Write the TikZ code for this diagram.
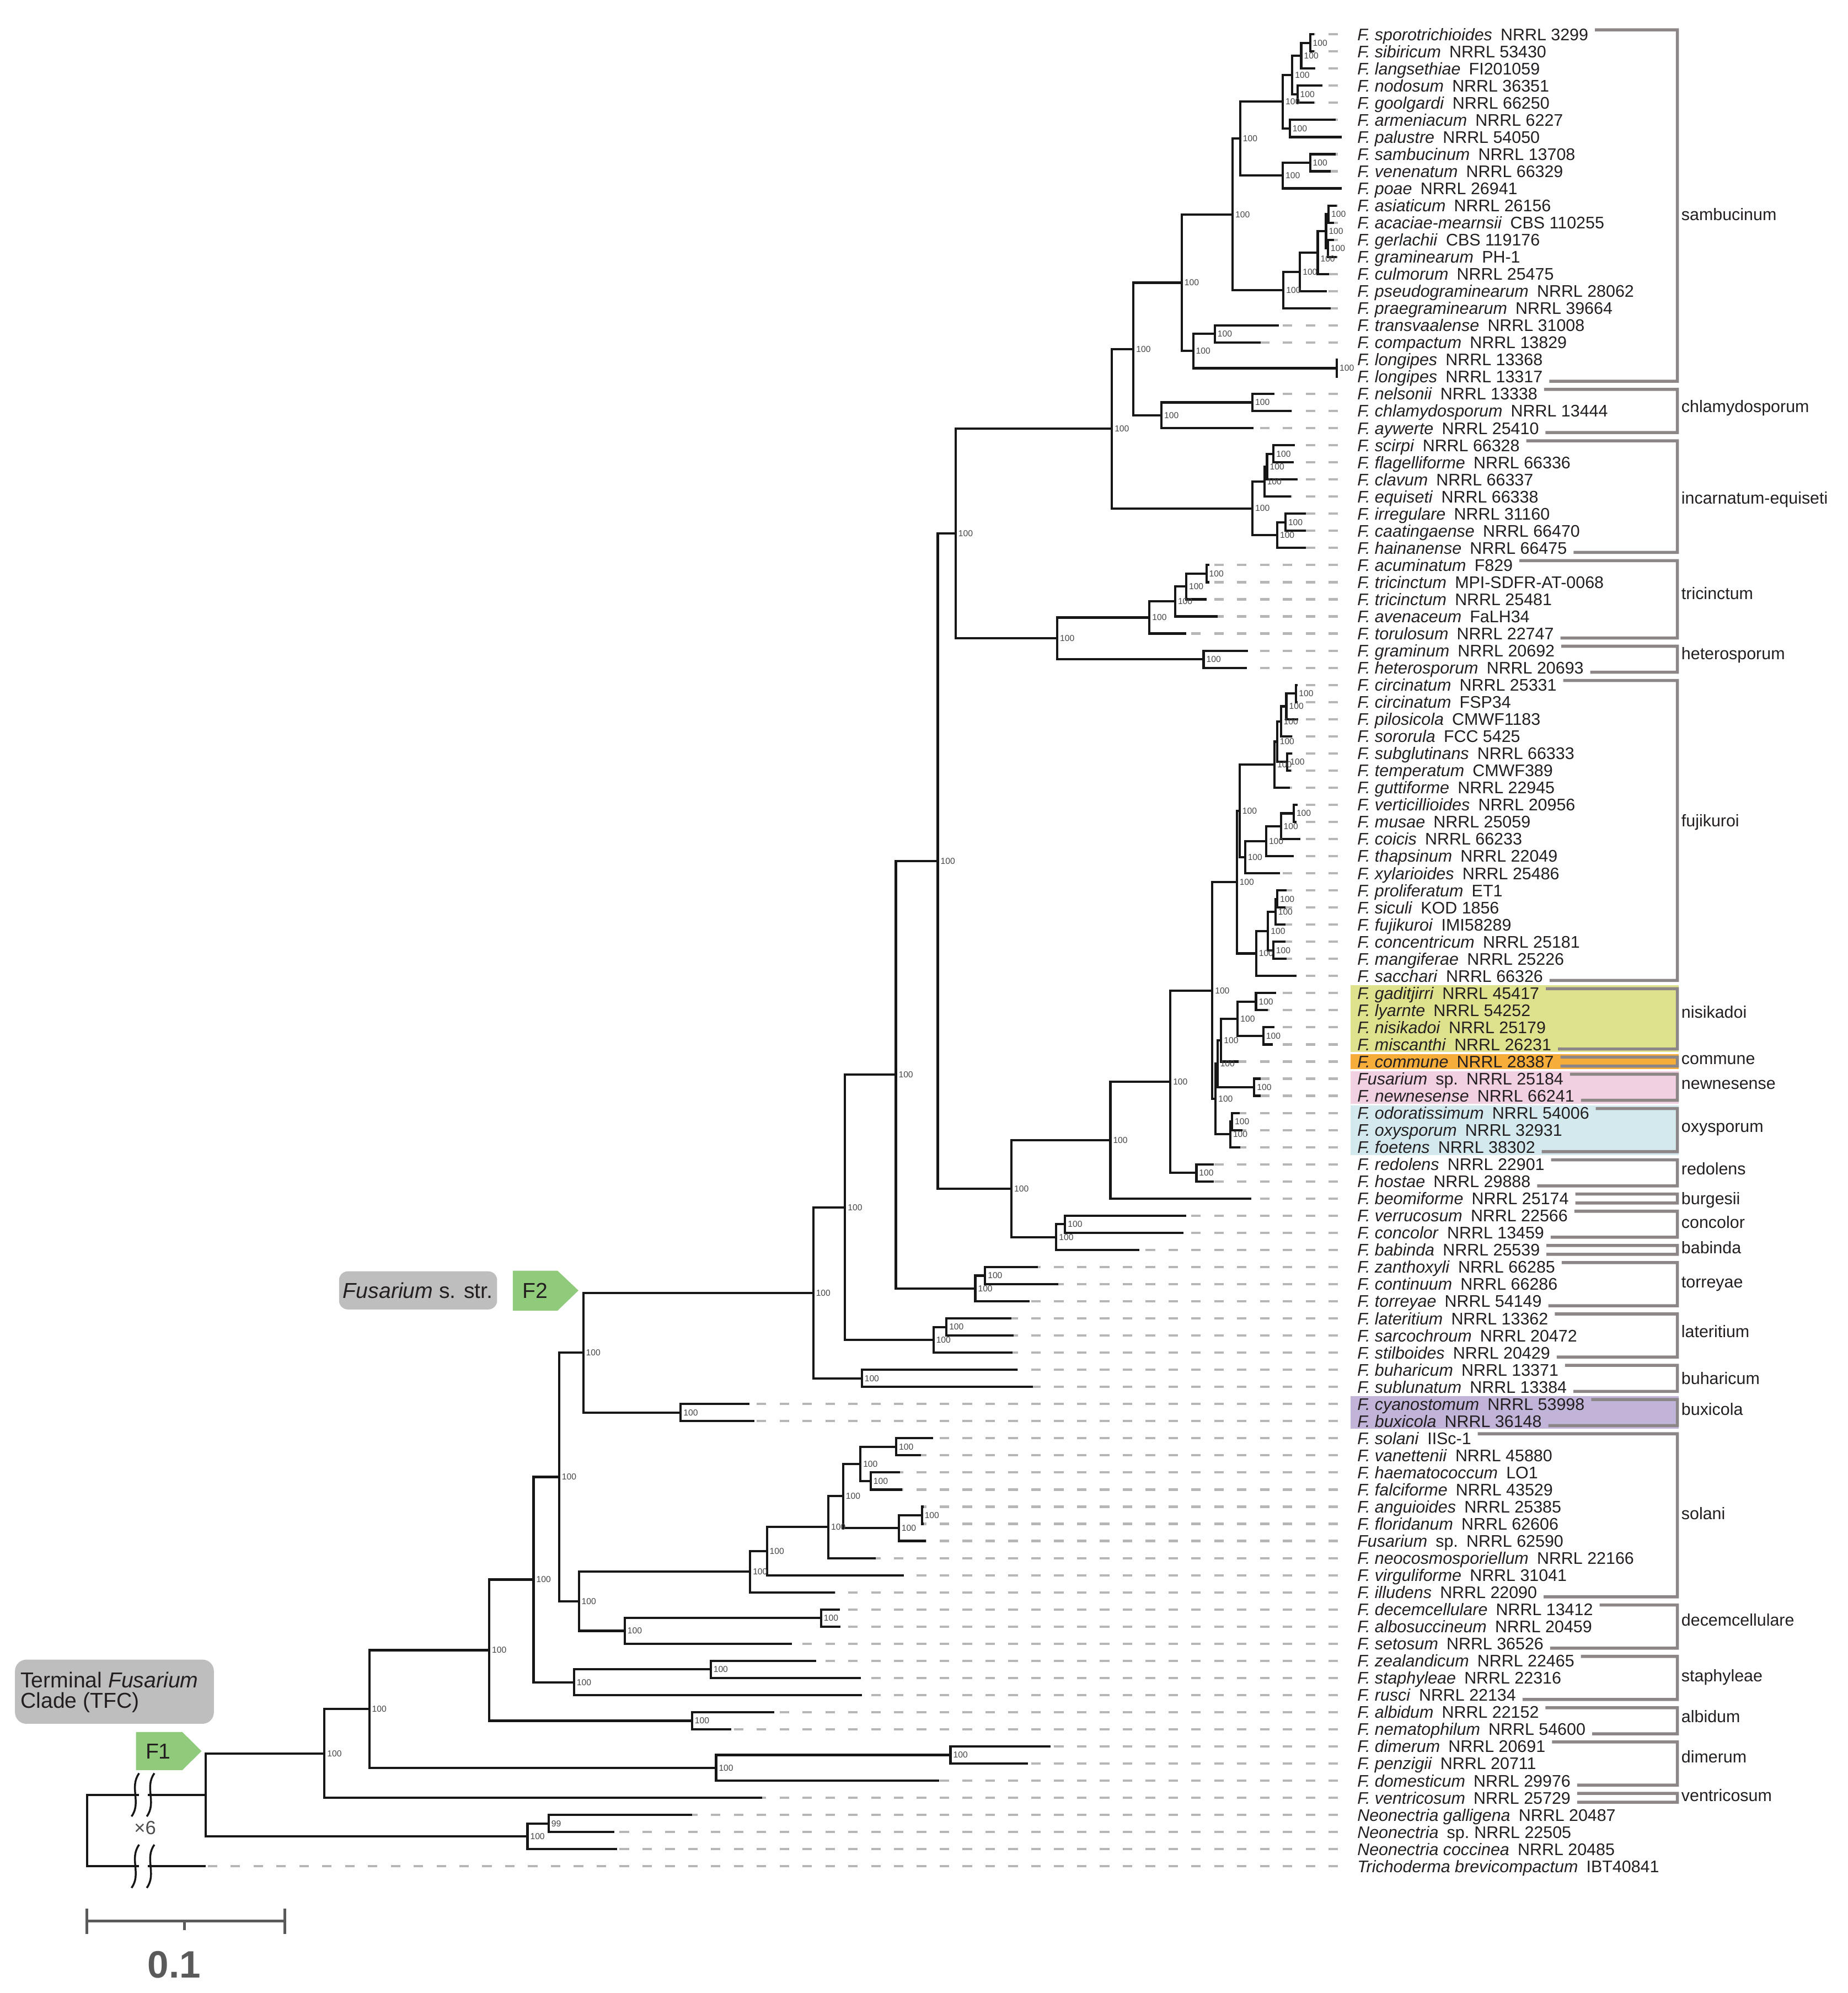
\documentclass[tikz,border=0pt]{standalone}
\usepackage{fontspec}
\setmainfont{Liberation Sans}
\definecolor{treec}{RGB}{22,22,22}
\definecolor{dashc}{RGB}{182,182,182}
\definecolor{brkc}{RGB}{140,134,134}
\definecolor{nisic}{RGB}{223,226,140}
\definecolor{commc}{RGB}{246,173,58}
\definecolor{newc}{RGB}{240,208,225}
\definecolor{oxyc}{RGB}{211,233,238}
\definecolor{buxc}{RGB}{194,180,217}
\definecolor{greenc}{RGB}{143,203,123}
\definecolor{boxc}{RGB}{190,190,190}
\definecolor{txtc}{RGB}{35,31,32}
\definecolor{bsc}{RGB}{70,70,70}
\definecolor{sbc}{RGB}{90,90,90}
\begin{document}
\begin{tikzpicture}[x=1pt,y=-13.47pt,
 tree/.style={line width=1.8pt,draw=treec},
 dashl/.style={line width=1.8pt,draw=dashc,dash pattern=on 7.5pt off 10.5pt},
 brk/.style={line width=2.4pt,draw=brkc},
 lab/.style={anchor=west,inner sep=0pt,text height=9.5pt,text depth=0pt,font=\fontsize{13.2}{14}\selectfont,text=txtc},
 clade/.style={anchor=west,inner sep=0pt,text height=7pt,text depth=0pt,font=\fontsize{13.2}{14}\selectfont,text=txtc},
 bs/.style={anchor=west,inner sep=0pt,xshift=2pt,font=\fontsize{6.8}{7}\selectfont,text=bsc},
 gbox/.style={fill=boxc,inner sep=0pt,anchor=north west},
 big/.style={inner sep=0pt,font=\fontsize{17}{18}\selectfont,text=txtc},
 wavy/.style={line width=1.5pt,draw=treec}
]
\useasboundingbox (0,-1.0045) rectangle (1454,115.403);
\fill[white] (0,-1.0045) rectangle (1454,115.403);

% highlight boxes
\fill[nisic] (1063,56.55) rectangle (1321,60.45);
\fill[commc] (1063,60.57) rectangle (1321,61.45);
\fill[newc] (1063,61.57) rectangle (1321,63.45);
\fill[oxyc] (1063,63.57) rectangle (1321,66.45);
\fill[buxc] (1063,80.55) rectangle (1321,82.45);

% tips and dashes
\foreach \rw/\xx in {1/1034,2/1034,3/1035,4/1040.5,5/1034,6/1051,7/1056,8/1051,9/1047,10/1056,11/1052,12/1050,13/1050,14/1052,15/1046,16/1044,17/1047,18/1006.5,19/992,20/1053,21/1053,22/1003,23/1016.6,24/986.3,25/1018.8,26/1018.1,27/1021,28/1015.9,29/1027.5,30/1027.5,31/1027.5,32/951.6,33/951.6,34/949.4,35/958.1,36/933.5,37/981.9,38/981.2,39/1021,40/1021,41/1021.7,42/1016.7,43/1016.7,44/1016,45/1015.2,46/1021,47/1020.3,48/1023.2,49/1018.1,50/1007.3,51/1012.3,52/1011.6,53/1011.6,54/1011.6,55/1012.4,56/1020.3,57/1004.4,58/997.8,59/1002.9,60/1001.5,61/974.7,62/992.1,63/992.1,64/975.4,65/977.6,66/976.1,67/955,68/955,69/984.8,70/933.6,71/931.4,72/896.8,73/816.8,74/832.8,75/810.4,76/796,77/797.6,78/796.6,79/800.8,80/813,81/589.6,82/593.8,83/734.4,84/724.7,85/708.4,86/710,87/727,88/727,89/728.6,90/689.1,91/711.2,92/656.9,93/660.8,94/661.6,95/623.2,96/642.2,97/677.5,98/678.2,99/609.3,100/575.6,101/826.6,102/809.1,103/739,104/599.8,105/544.6,106/483.6,107/485.7,108/161.9}
{
 \coordinate (t\rw) at (\xx,\rw);
 \coordinate (e\rw) at (1053,\rw);
 \draw[dashl] (e\rw) -- (t\rw);
}

% internal nodes
\foreach \nn/\xx/\rw in {n12/1031/1.5,nB/1024/2.25,n45/1021/4.5,nD/1017/3.375,n67/1015/6.5,nE/1009.5/4.9375,n89/1031/8.5,nH/1009.5/9.25,nG/976/7.094,n1112/1045.5/11.5,n1314/1045/13.5,nP/1043.5/12.5,nO/1037/13.75,nN/1023/14.875,nI/1010/15.9375,nJ/970/11.516,n1819/956/18.5,n2021/1052/20.5,nK/939/19.5,nL/930/15.508,n2223/985.6/22.5,nChl/914/23.25,nM/892/19.379,n2526/1002.2/25.5,n27/997.1/26.25,n28/995/27.125,n2930/1011.6/29.5,n31/1005.1/30.25,nInc/985.6/28.6875,nQ/875/24.033,n3233/949.4/32.5,n34/933.5/33.25,n35/924.8/34.125,nTric/904.6/35.0625,nHet/947.2/37.5,nTH/832/36.281,nR/752/30.157,
n3940/1020/39.5,n41/1012.3/40.25,n42/1008/41.125,n4344/1013.1/43.5,nx/1005/42.3125,ny/1003/43.656,n4647/1018.1/46.5,n48/1008/47.25,n49/996.4/48.125,nFd/979.8/49.0625,nFb/975.5/46.359,n5152/1005.1/51.5,n53/1003.7/52.25,n5455/1002/54.5,nFg/997.9/53.375,nFe/988.5/54.6875,nFa/973.3/50.523,
n5758/988.4/57.5,n5960/994.2/59.5,nNis/974/58.5,nCom/961/59.75,n6263/987/62.5,nNew/958.1/61.125,n6465/969.6/64.5,nOxy/968.2/65.25,nNO/956.6/63.1875,nFf/954/56.855,n6768/941.5/67.5,nFN/921/62.178,nBG/873.8/65.589,n7071/838.2/70.5,nCB/831.2/71.25,nT/796/68.42,nS/738/49.288,n7374/775.2/73.5,nTor/767.5/74.25,nStwo/705/61.769,n7677/744.8/76.5,nLat/734.6/77.25,nSthree/665/69.51,nBuh/678.2/79.5,nSfour/640/74.505,nBux/535.7/81.5,nFtwo/459/78.0,
n8384/705.3/83.5,n8586/685.2/85.5,nSa/677.1/84.5,n8788/725.5/87.5,nSb/707.3/88.25,nSc/663.5/86.375,nSd/651.9/88.1875,nSe/603.5/89.594,nSol/590.3/90.797,n9394/646.1/93.5,nDec/491.6/94.25,nV/455.5/92.523,nU/440/85.262,n9697/559.3/96.5,nSta/451.7/97.25,nW/419.9/91.256,nAlb/544.6/99.5,nX/385/95.378,n101/748/101.5,nDim/563.5/102.25,nY/290.6/98.814,nZ/255.3/101.407,n105/431.7/105.5,nNeo/415.1/106.25,nFone/161.9/103.829,nRoot/68.5/105.914}
 \coordinate (\nn) at (\xx,\rw);

% branches
\foreach \pa/\ch in {n12/t1,n12/t2,nB/n12,nB/t3,n45/t4,n45/t5,nD/nB,nD/n45,n67/t6,n67/t7,nE/nD,nE/n67,n89/t8,n89/t9,nH/n89,nH/t10,nG/nE,nG/nH,n1112/t11,n1112/t12,n1314/t13,n1314/t14,nP/n1112,nP/n1314,nO/nP,nO/t15,nN/nO,nN/t16,nI/nN,nI/t17,nJ/nG,nJ/nI,n1819/t18,n1819/t19,n2021/t20,n2021/t21,nK/n1819,nK/n2021,nL/nJ,nL/nK,n2223/t22,n2223/t23,nChl/n2223,nChl/t24,nM/nL,nM/nChl,n2526/t25,n2526/t26,n27/n2526,n27/t27,n28/n27,n28/t28,n2930/t29,n2930/t30,n31/n2930,n31/t31,nInc/n28,nInc/n31,nQ/nM,nQ/nInc,n3233/t32,n3233/t33,n34/n3233,n34/t34,n35/n34,n35/t35,nTric/n35,nTric/t36,nHet/t37,nHet/t38,nTH/nTric,nTH/nHet,nR/nQ,nR/nTH,
n3940/t39,n3940/t40,n41/n3940,n41/t41,n42/n41,n42/t42,n4344/t43,n4344/t44,nx/n42,nx/n4344,ny/nx,ny/t45,n4647/t46,n4647/t47,n48/n4647,n48/t48,n49/n48,n49/t49,nFd/n49,nFd/t50,nFb/ny,nFb/nFd,n5152/t51,n5152/t52,n53/n5152,n53/t53,n5455/t54,n5455/t55,nFg/n53,nFg/n5455,nFe/nFg,nFe/t56,nFa/nFb,nFa/nFe,
n5758/t57,n5758/t58,n5960/t59,n5960/t60,nNis/n5758,nNis/n5960,nCom/nNis,nCom/t61,n6263/t62,n6263/t63,nNew/nCom,nNew/n6263,n6465/t64,n6465/t65,nOxy/n6465,nOxy/t66,nNO/nNew,nNO/nOxy,nFf/nFa,nFf/nNO,n6768/t67,n6768/t68,nFN/nFf,nFN/n6768,nBG/nFN,nBG/t69,n7071/t70,n7071/t71,nCB/n7071,nCB/t72,nT/nBG,nT/nCB,nS/nR,nS/nT,n7374/t73,n7374/t74,nTor/n7374,nTor/t75,nStwo/nS,nStwo/nTor,n7677/t76,n7677/t77,nLat/n7677,nLat/t78,nSthree/nStwo,nSthree/nLat,nBuh/t79,nBuh/t80,nSfour/nSthree,nSfour/nBuh,nBux/t81,nBux/t82,nFtwo/nSfour,nFtwo/nBux,
n8384/t83,n8384/t84,n8586/t85,n8586/t86,nSa/n8384,nSa/n8586,n8788/t87,n8788/t88,nSb/n8788,nSb/t89,nSc/nSa,nSc/nSb,nSd/nSc,nSd/t90,nSe/nSd,nSe/t91,nSol/nSe,nSol/t92,n9394/t93,n9394/t94,nDec/n9394,nDec/t95,nV/nSol,nV/nDec,nU/nFtwo,nU/nV,n9697/t96,n9697/t97,nSta/n9697,nSta/t98,nW/nU,nW/nSta,nAlb/t99,nAlb/t100,nX/nW,nX/nAlb,n101/t101,n101/t102,nDim/n101,nDim/t103,nY/nX,nY/nDim,nZ/nY,nZ/t104,n105/t105,n105/t106,nNeo/n105,nNeo/t107,nFone/nZ,nFone/nNeo,nRoot/nFone,nRoot/t108}
 \draw[tree] (\pa) |- (\ch);

% support values
\foreach \nn in {n12,nB,n45,nD,n67,nE,n89,nH,nG,n1112,n1314,nP,nN,nI,nJ,n1819,n2021,nK,nL,n2223,nChl,nM,n2526,n27,n28,n2930,n31,nInc,nQ,n3233,n34,n35,nTric,nHet,nTH,nR,n3940,n41,n42,n4344,nx,ny,n4647,n48,n49,nFd,nFb,n5152,n53,n5455,nFg,nFe,nFa,n5758,n5960,nNis,nCom,n6263,nNew,n6465,nOxy,nNO,nFf,n6768,nFN,nBG,n7071,nCB,nT,nS,n7374,nTor,nStwo,n7677,nLat,nSthree,nBuh,nSfour,nBux,nFtwo,n8384,n8586,nSa,n8788,nSb,nSc,nSd,nSe,nSol,n9394,nDec,nV,nU,n9697,nSta,nW,nAlb,nX,n101,nDim,nY,nZ,nNeo}
 \node[bs] (b\nn) at (\nn) {100};
\node[bs,yshift=-5pt] (bnO) at (nO) {100};
\node[bs] (bn105) at (n105) {99};

% leaf labels
\foreach \rw/\spn/\stn in {1/F. sporotrichioides/NRRL 3299,2/F. sibiricum/NRRL 53430,3/F. langsethiae/FI201059,4/F. nodosum/NRRL 36351,5/F. goolgardi/NRRL 66250,6/F. armeniacum/NRRL 6227,7/F. palustre/NRRL 54050,8/F. sambucinum/NRRL 13708,9/F. venenatum/NRRL 66329,10/F. poae/NRRL 26941,11/F. asiaticum/NRRL 26156,12/F. acaciae-mearnsii/CBS 110255,13/F. gerlachii/CBS 119176,14/F. graminearum/PH-1,15/F. culmorum/NRRL 25475,16/F. pseudograminearum/NRRL 28062,17/F. praegraminearum/NRRL 39664,18/F. transvaalense/NRRL 31008,19/F. compactum/NRRL 13829,20/F. longipes/NRRL 13368,21/F. longipes/NRRL 13317,22/F. nelsonii/NRRL 13338,23/F. chlamydosporum/NRRL 13444,24/F. aywerte/NRRL 25410,25/F. scirpi/NRRL 66328,26/F. flagelliforme/NRRL 66336,27/F. clavum/NRRL 66337,28/F. equiseti/NRRL 66338,29/F. irregulare/NRRL 31160,30/F. caatingaense/NRRL 66470,31/F. hainanense/NRRL 66475,32/F. acuminatum/F829,33/F. tricinctum/MPI-SDFR-AT-0068,34/F. tricinctum/NRRL 25481,35/F. avenaceum/FaLH34,36/F. torulosum/NRRL 22747,37/F. graminum/NRRL 20692,38/F. heterosporum/NRRL 20693,39/F. circinatum/NRRL 25331,40/F. circinatum/FSP34,41/F. pilosicola/CMWF1183,42/F. sororula/FCC 5425,43/F. subglutinans/NRRL 66333,44/F. temperatum/CMWF389,45/F. guttiforme/NRRL 22945,46/F. verticillioides/NRRL 20956,47/F. musae/NRRL 25059,48/F. coicis/NRRL 66233,49/F. thapsinum/NRRL 22049,50/F. xylarioides/NRRL 25486,51/F. proliferatum/ET1,52/F. siculi/KOD 1856,53/F. fujikuroi/IMI58289,54/F. concentricum/NRRL 25181,55/F. mangiferae/NRRL 25226,56/F. sacchari/NRRL 66326,57/F. gaditjirri/NRRL 45417,58/F. lyarnte/NRRL 54252,59/F. nisikadoi/NRRL 25179,60/F. miscanthi/NRRL 26231,61/F. commune/NRRL 28387,62/Fusarium/sp.\hspace{0.5em}NRRL 25184,63/F. newnesense/NRRL 66241,64/F. odoratissimum/NRRL 54006,65/F. oxysporum/NRRL 32931,66/F. foetens/NRRL 38302,67/F. redolens/NRRL 22901,68/F. hostae/NRRL 29888,69/F. beomiforme/NRRL 25174,70/F. verrucosum/NRRL 22566,71/F. concolor/NRRL 13459,72/F. babinda/NRRL 25539,73/F. zanthoxyli/NRRL 66285,74/F. continuum/NRRL 66286,75/F. torreyae/NRRL 54149,76/F. lateritium/NRRL 13362,77/F. sarcochroum/NRRL 20472,78/F. stilboides/NRRL 20429,79/F. buharicum/NRRL 13371,80/F. sublunatum/NRRL 13384,81/F. cyanostomum/NRRL 53998,82/F. buxicola/NRRL 36148,83/F. solani/IISc-1,84/F. vanettenii/NRRL 45880,85/F. haematococcum/LO1,86/F. falciforme/NRRL 43529,87/F. anguioides/NRRL 25385,88/F. floridanum/NRRL 62606,89/Fusarium/sp.\hspace{0.5em}NRRL 62590,90/F. neocosmosporiellum/NRRL 22166,91/F. virguliforme/NRRL 31041,92/F. illudens/NRRL 22090,93/F. decemcellulare/NRRL 13412,94/F. albosuccineum/NRRL 20459,95/F. setosum/NRRL 36526,96/F. zealandicum/NRRL 22465,97/F. staphyleae/NRRL 22316,98/F. rusci/NRRL 22134,99/F. albidum/NRRL 22152,100/F. nematophilum/NRRL 54600,101/F. dimerum/NRRL 20691,102/F. penzigii/NRRL 20711,103/F. domesticum/NRRL 29976,104/F. ventricosum/NRRL 25729,105/Neonectria galligena/NRRL 20487,106/Neonectria/sp.\hspace{0.3em}NRRL 22505,107/Neonectria coccinea/NRRL 20485,108/Trichoderma brevicompactum/IBT40841}
 \node[lab] (L\rw) at (1068,\rw) {\textit{\spn}\hspace{0.5em}\stn};

% clade brackets
\foreach \aa/\bb/\ry/\nm in {1/21/11.6/sambucinum,22/24/22.83/chlamydosporum,25/31/28.17/incarnatum-equiseti,32/36/33.74/tricinctum,37/38/37.24/heterosporum,39/56/47.0/fujikuroi,57/60/58.2/nisikadoi,61/61/60.89/commune,62/63/62.34/newnesense,64/66/64.88/oxysporum,67/68/67.36/redolens,69/69/69.08/burgesii,70/71/70.46/concolor,72/72/71.96/babinda,73/75/73.96/torreyae,76/78/76.85/lateritium,79/80/79.59/buharicum,81/82/81.39/buxicola,83/92/87.47/solani,93/95/93.7/decemcellulare,96/98/96.96/staphyleae,99/100/99.33/albidum,101/103/101.69/dimerum,104/104/103.95/ventricosum}
{
 \draw[brk] ([shift={(5pt,-0.26)}]L\aa.east) -- (1320,\aa-0.26) -- (1320,\bb+0.26) -- ([shift={(5pt,0.26)}]L\bb.east);
 \node[clade] (C\aa) at (1323,\ry) {\nm};
}

% overlay elements in image pixel coordinates
\begin{scope}[shift={(0,-1.0045)},y=-1pt]
 % breaks
 \fill[white] (109.5,1408) rectangle (116.5,1416.2);
 \fill[white] (109.5,1464.2) rectangle (116.5,1472.4);
 \foreach \xc/\yc [count=\k] in {106.5/1412.1,118.5/1412.1,106.5/1468.3,118.5/1468.3}
  \draw[wavy] (\xc+3,\yc-17) .. controls (\xc-5,\yc-6) and (\xc+5,\yc+6) .. (\xc-3,\yc+17);
 \node[inner sep=0pt,font=\fontsize{15}{16}\selectfont,text=txtc!80] (xsix) at (114.2,1438) {×6};
 % TFC box
 \node[gbox,rounded corners=9pt,minimum width=156.5pt,minimum height=50.5pt] (tfc) at (11.6,1305.5) {};
 \node[big,anchor=west] (tfcA) at (16,1321.8) {Terminal \textit{Fusarium}};
 \node[big,anchor=west] (tfcB) at (16,1339.6) {Clade (TFC)};
 % Fusarium s. str. box
 \node[gbox,rounded corners=7pt,minimum width=124.4pt,minimum height=30pt] (fss) at (266.6,1000) {};
 \node[big] (fssT) at (328.8,1015.3) {\textit{Fusarium} s. str.};
 % F1 and F2 tags
 \fill[greenc] (107,1362.7) -- (143.5,1362.7) -- (158.6,1377.7) -- (143.5,1392.6) -- (107,1392.6) -- cycle;
 \node[big] (Fone) at (124.5,1377.7) {F1};
 \fill[greenc] (403.5,999.7) -- (438.7,999.7) -- (455.2,1015.3) -- (438.7,1031.2) -- (403.5,1031.2) -- cycle;
 \node[big] (Ftwo) at (421,1015.4) {F2};
 % scale bar
 \draw[line width=2.2pt,draw=sbc] (68.5,1501.8) -- (68.5,1521.6);
 \draw[line width=2.2pt,draw=sbc] (224.2,1501.8) -- (224.2,1521.6);
 \draw[line width=2.2pt,draw=sbc] (68.5,1511.3) -- (224.2,1511.3);
 \draw[line width=2.2pt,draw=sbc] (145.3,1511.3) -- (145.3,1518.5);
 \node[inner sep=0pt,font=\fontsize{30}{30}\selectfont\bfseries,text=sbc] (sc) at (137,1545.8) {0.1};
\end{scope}
\end{tikzpicture}
\end{document}
